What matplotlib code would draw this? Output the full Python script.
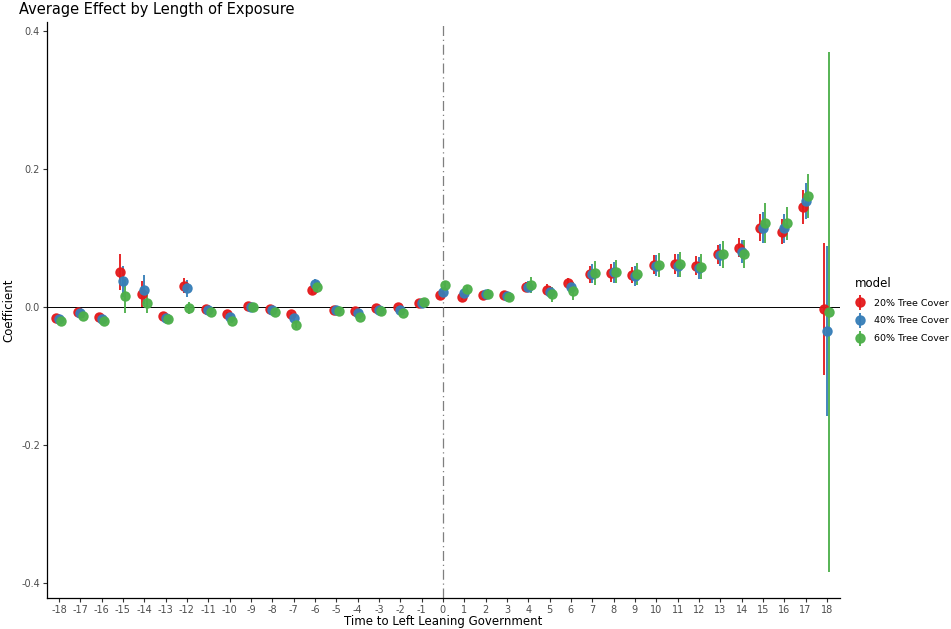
"""Average effect by length of exposure, event-study style plot."""
import matplotlib.pyplot as plt
from matplotlib.container import ErrorbarContainer
from matplotlib.legend_handler import HandlerErrorbar

years = list(range(-18, 19))

# coefficients
coef_20 = [-0.016, -0.007, -0.014, 0.050, 0.019, -0.013, 0.031, -0.003, -0.011,
           0.001, -0.003, -0.011, 0.025, -0.004, -0.006, -0.002, 0.000, 0.005,
           0.017, 0.015, 0.017, 0.017, 0.029, 0.025, 0.034, 0.047, 0.049,
           0.046, 0.061, 0.062, 0.060, 0.076, 0.086, 0.115, 0.109, 0.145, -0.003]
coef_40 = [-0.017, -0.009, -0.017, 0.037, 0.025, -0.016, 0.027, -0.005, -0.014,
           0.000, -0.004, -0.016, 0.033, -0.005, -0.009, -0.004, -0.004, 0.006,
           0.022, 0.020, 0.018, 0.016, 0.029, 0.022, 0.029, 0.048, 0.050,
           0.045, 0.060, 0.060, 0.057, 0.075, 0.080, 0.115, 0.114, 0.154, -0.035]
coef_60 = [-0.020, -0.013, -0.020, 0.016, 0.006, -0.018, -0.002, -0.008, -0.020,
           0.000, -0.007, -0.026, 0.029, -0.006, -0.014, -0.006, -0.009, 0.007,
           0.032, 0.026, 0.019, 0.015, 0.032, 0.018, 0.023, 0.049, 0.051,
           0.048, 0.061, 0.062, 0.058, 0.076, 0.077, 0.122, 0.121, 0.161, -0.007]

# half-width of the confidence intervals
ci_20 = [0.003, 0.003, 0.003, 0.026, 0.019, 0.003, 0.011, 0.003, 0.003,
         0.003, 0.003, 0.004, 0.006, 0.003, 0.003, 0.003, 0.003, 0.003,
         0.005, 0.005, 0.006, 0.006, 0.007, 0.008, 0.008, 0.012, 0.013,
         0.012, 0.014, 0.014, 0.014, 0.014, 0.014, 0.020, 0.018, 0.025, 0.096]
ci_40 = [0.003, 0.003, 0.003, 0.023, 0.021, 0.003, 0.012, 0.003, 0.003,
         0.003, 0.003, 0.004, 0.008, 0.003, 0.003, 0.003, 0.003, 0.003,
         0.005, 0.005, 0.006, 0.006, 0.008, 0.009, 0.009, 0.014, 0.015,
         0.014, 0.015, 0.016, 0.016, 0.016, 0.017, 0.022, 0.021, 0.026, 0.123]
ci_60 = [0.003, 0.003, 0.003, 0.025, 0.015, 0.003, 0.009, 0.003, 0.003,
         0.003, 0.003, 0.004, 0.009, 0.003, 0.003, 0.003, 0.003, 0.003,
         0.005, 0.006, 0.007, 0.007, 0.012, 0.011, 0.013, 0.017, 0.017,
         0.016, 0.017, 0.018, 0.018, 0.020, 0.020, 0.029, 0.024, 0.032, 0.377]

models = ["20% Tree Cover", "40% Tree Cover", "60% Tree Cover"]
colors = ["#E41A1C", "#377EB8", "#4DAF4A"]
offsets = [-0.12, 0.0, 0.12]

fig = plt.figure(figsize=(9.51, 6.29), dpi=100)
ax = fig.add_axes([0.0494, 0.0493, 0.8336, 0.9157])

ax.axhline(0, color="black", linewidth=0.7, zorder=1)
ax.axvline(0, color="#7f7f7f", linestyle=(0, (8, 3, 1, 3)), linewidth=0.9, zorder=1)

for coef, ci, name, col, off in zip([coef_20, coef_40, coef_60],
                                    [ci_20, ci_40, ci_60],
                                    models, colors, offsets):
    xs = [y + off for y in years]
    ax.errorbar(xs, coef, yerr=ci, fmt="o", color=col, ecolor=col,
                elinewidth=1.4, markersize=6.5, capsize=0, alpha=0.95,
                label=name, zorder=3)

ax.set_xlim(-18.56, 18.6)
ax.set_ylim(-0.422, 0.413)
ax.set_xticks(years)
ax.set_xticklabels([str(y) for y in years])
ax.set_yticks([-0.4, -0.2, 0.0, 0.2, 0.4])
ax.set_yticklabels(["-0.4", "-0.2", "0.0", "0.2", "0.4"])
ax.tick_params(labelsize=7, colors="#4D4D4D", length=3, pad=2)
ax.tick_params(axis="both", color="#333333")

for side in ["top", "right"]:
    ax.spines[side].set_visible(False)
for side in ["left", "bottom"]:
    ax.spines[side].set_linewidth(0.9)

ax.set_xlabel("Time to Left Leaning Government", fontsize=8.5, labelpad=0)
ax.set_ylabel("Coefficient", fontsize=8.5, labelpad=4)
ax.set_title("Average Effect by Length of Exposure", loc="left", fontsize=10.5,
             x=-0.035, pad=6)

leg = ax.legend(title="model", loc="center left", bbox_to_anchor=(1.008, 0.5),
                frameon=False, fontsize=6.8, title_fontsize=8.5,
                handlelength=1.2, handletextpad=0.9, labelspacing=0.95,
                handler_map={ErrorbarContainer: HandlerErrorbar(yerr_size=0.8)})
leg._legend_box.align = "left"

plt.savefig("out.png", dpi=100)
print("Saved out.png")
